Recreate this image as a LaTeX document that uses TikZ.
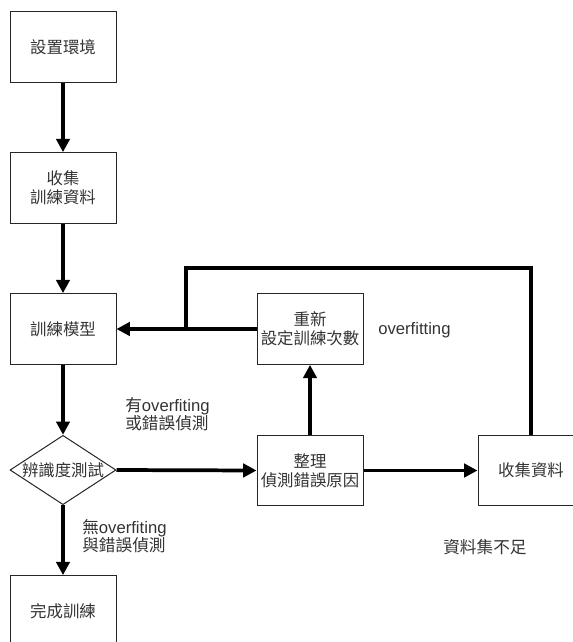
\documentclass[tikz,border=0pt]{standalone}
\usepackage{fontspec}
\setmainfont{Liberation Sans}
\newfontfamily\cjk{Noto Sans CJK TC}
\usetikzlibrary{arrows.meta,shapes.geometric}
\definecolor{txt}{HTML}{333333}
\tikzset{
  px/.style={x=0.75pt,y=-0.75pt},
  boxnode/.style={draw=black!85,line width=0.75pt,minimum width=79.5pt,minimum height=53pt,inner sep=0pt,align=center,font=\cjk\fontsize{12.3}{14.3}\selectfont,text=txt},
  dianode/.style={draw=black!85,line width=0.75pt,diamond,minimum width=79.5pt,minimum height=52pt,inner sep=0pt},
  diatext/.style={font=\cjk\fontsize{12.3}{14.3}\selectfont,text=txt,inner sep=0pt},
  conn/.style={line width=2.8pt,-{Triangle[length=10pt,width=10pt]}},
  plainconn/.style={line width=2.8pt},
  lbl/.style={align=left,inner sep=0pt,font=\fontsize{12.5}{13.8}\selectfont,text=txt,anchor=west}
}
\begin{document}
\begin{tikzpicture}[px]
\useasboundingbox (0,0) rectangle (573,642);
\clip (0,0) rectangle (573,642);
\node[boxnode] (env) at (63,47) {設置環境};
\node[boxnode] (collect) at (63,188) {收集\\訓練資料};
\node[boxnode] (train) at (63,329) {訓練模型};
\node[dianode,label={[diatext]center:辨識度測試}] (test) at (63,470) {};
\node[boxnode] (done) at (63,611) {完成訓練};
\node[boxnode] (reset) at (310,329) {重新\\設定訓練次數};
\node[boxnode] (sort) at (310,470.5) {整理\\偵測錯誤原因};
\node[boxnode] (more) at (531,470.5) {收集資料};
\coordinate (jn) at (186,329);
\coordinate (tl) at (186,268);
\coordinate (tr) at (531,268);
\draw[conn] (env) -- (collect);
\draw[conn] (collect) -- (train);
\draw[conn] (train) -- (test);
\draw[conn] (test) -- (done);
\draw[conn] (test.east) -- (sort.west);
\draw[conn] (sort) -- (reset);
\draw[conn] (sort.east) -- (more.west);
\draw[conn] (reset.west) -- (train.east);
\draw[plainconn,line join=miter] (more.north) -- (tr) -- (tl) -- (jn);
\node[lbl] (l1) at (125,414) {{\cjk 有}overfiting\\{\cjk 或錯誤偵測}};
\node[lbl] (l2) at (82,536) {{\cjk 無}overfiting\\{\cjk 與錯誤偵測}};
\node[lbl] (l3) at (378,330) {overfitting};
\node[lbl] (l4) at (443,547) {\cjk 資料集不足};
\end{tikzpicture}
\end{document}
